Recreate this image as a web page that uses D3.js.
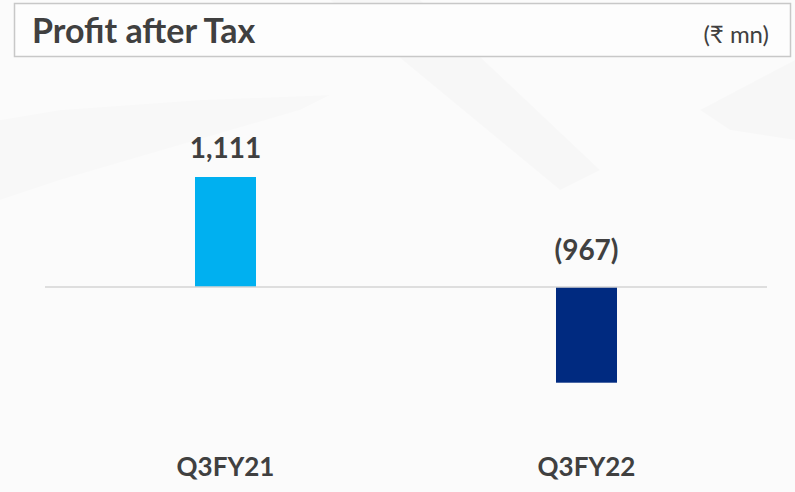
<!DOCTYPE html>
<html>
<head>
    <meta charset="utf-8">
    <title>Profit after Tax</title>
    <style>
        body { margin: 0; background: #fbfbfb; }
        svg { display: block; font-family: Lato, "Open Sans", sans-serif; }
    </style>
</head>
<body>
    <svg width="795" height="492"></svg>

    <script src="https://cdn.jsdelivr.net/npm/d3@7/dist/d3.min.js"></script>
    <script>

    var categories = ["Q3FY21", "Q3FY22"],
        values = [1111, -967],
        valueLabels = ["1,111", "(967)"],
        colors = ["#00b0f0", "#002a80"];

    var title = "Profit after Tax",
        unit = "(\u20b9 mn)";

    var svg = d3.select("svg"),
        width = +svg.attr("width"),
        height = +svg.attr("height");

    // faint diagonal streaks in the slide background
    var bg = svg.append("g").attr("fill", "#000");
    bg.append("path")
        .attr("d", "M330,0 L420,0 L600,170 L560,190 Z")
        .attr("opacity", 0.014);
    bg.append("path")
        .attr("d", "M0,120 L60,110 L200,100 L330,95 L300,110 L60,180 L0,200 Z")
        .attr("opacity", 0.011);
    bg.append("path")
        .attr("d", "M700,110 L795,60 L795,140 L730,130 Z")
        .attr("opacity", 0.016);

    // header box
    svg.append("rect")
        .attr("x", 14.5).attr("y", 3.5)
        .attr("width", 776).attr("height", 53)
        .attr("fill", "#fdfdfd")
        .attr("stroke", "#c8c8c8")
        .attr("stroke-width", 1.5);

    svg.append("text")
        .attr("x", 32).attr("y", 43)
        .attr("font-size", 34)
        .attr("font-weight", 700)
        .attr("fill", "#404040")
        .text(title);

    svg.append("text")
        .attr("x", 769).attr("y", 43)
        .attr("text-anchor", "end")
        .attr("font-size", 24)
        .attr("font-weight", 400)
        .attr("fill", "#404040")
        .text(unit);

    var x = d3.scaleBand()
        .domain(categories)
        .range([45, 767])
        .paddingInner(0.831)
        .paddingOuter(0.4155);

    var y = d3.scaleLinear()
        .domain([d3.min(values), d3.max(values)])
        .range([382.7, 177]);

    svg.selectAll(".bar")
        .data(values)
        .enter().append("rect")
        .attr("class", "bar")
        .attr("x", function(d, i) { return x(categories[i]); })
        .attr("y", function(d) { return Math.min(y(d), y(0)); })
        .attr("width", x.bandwidth())
        .attr("height", function(d) { return Math.abs(y(d) - y(0)); })
        .attr("fill", function(d, i) { return colors[i]; });

    // zero line
    svg.append("line")
        .attr("x1", 45).attr("x2", 767)
        .attr("y1", y(0)).attr("y2", y(0))
        .attr("stroke", "#d4d4d4")
        .attr("stroke-width", 1.5);

    svg.selectAll(".value")
        .data(values)
        .enter().append("text")
        .attr("class", "value")
        .attr("x", function(d, i) { return x(categories[i]) + x.bandwidth() / 2; })
        .attr("y", function(d) { return d >= 0 ? y(d) - 19 : y(0) - 27; })
        .attr("text-anchor", "middle")
        .attr("font-size", 28)
        .attr("font-weight", 700)
        .attr("fill", "#404040")
        .text(function(d, i) { return valueLabels[i]; });

    var xAxis = d3.axisBottom(x).tickSize(0).tickPadding(0);

    var gx = svg.append("g")
        .attr("transform", "translate(0,476)")
        .call(xAxis);

    gx.select(".domain").remove();
    gx.selectAll("text")
        .attr("dy", 0)
        .attr("font-family", "Lato, 'Open Sans', sans-serif")
        .attr("font-size", 26)
        .attr("font-weight", 700)
        .attr("fill", "#404040");

    </script>
</body>
</html>
